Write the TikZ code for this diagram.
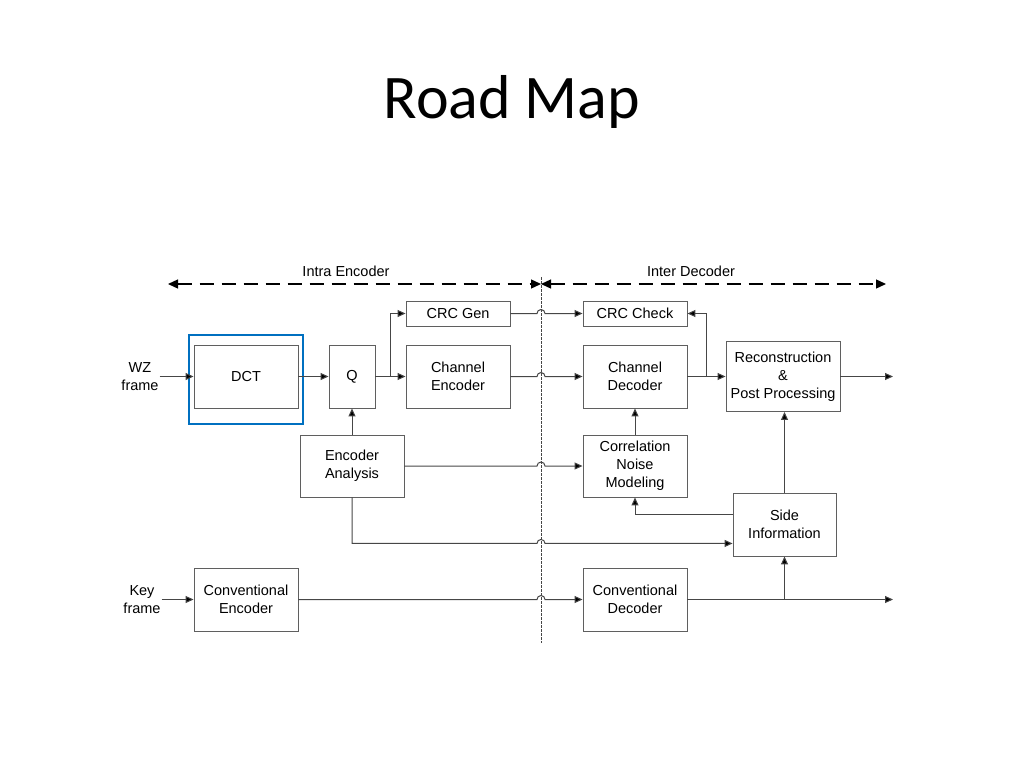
\documentclass[tikz,border=0pt]{standalone}
\usepackage{fontspec}
\setmainfont{Liberation Sans}
\newfontfamily\titlefont{Carlito}
\usetikzlibrary{arrows.meta,calc}
\definecolor{hl_blue}{RGB}{0, 112, 192}
\definecolor{ln_gray}{RGB}{70, 70, 70}
\definecolor{bx_gray}{RGB}{95, 95, 95}
\tikzstyle{blk}=[rectangle,draw=bx_gray,line width=0.9pt,fill=white,
  align=center,inner sep=2pt,font=\fontsize{14.5}{18}\selectfont]
\tikzstyle{lbl}=[align=center,inner sep=1pt,font=\fontsize{14.5}{18}\selectfont]
\tikzstyle{arr}=[draw=ln_gray,line width=1pt,-{Triangle[length=8pt,width=7pt,fill=black]}]
\tikzstyle{span}=[line width=1.3pt,dash pattern=on 14pt off 8pt,
  {Triangle[length=10pt,width=9pt]}-{Triangle[length=10pt,width=9pt]}]
\tikzstyle{divline}=[draw=ln_gray,line width=0.6pt,dash pattern=on 2.5pt off 1.5pt]

\begin{document}
\begin{tikzpicture}[x=1pt,y=-1pt]
    \useasboundingbox (0,0) rectangle (1024,768);
    \node [anchor=base] (title) at (512,118) {\titlefont\fontsize{62}{62}\selectfont Road Map};

    % encoder / decoder split
    \coordinate (dtop) at (541,277);
    \coordinate (dbot) at (541,643);
    \coordinate (tl) at (168,284);
    \coordinate (tm) at (541,284);
    \coordinate (tr) at (886,284);
    \draw [divline] (dtop) -- (dbot);
    \draw [span] (tl) -- (tm);
    \draw [span] (tm) -- (tr);
    \node [style=lbl] (intra) at (346,271) {Intra Encoder};
    \node [style=lbl] (inter) at (691,271) {Inter Decoder};

    % blocks
    \node [style=lbl] (wz) at (140,376.5) {WZ\\frame};
    \node [style=lbl] (key) at (142,599.5) {Key\\frame};
    \node [draw=hl_blue,line width=2.6pt,minimum width=114,minimum height=89] (hl) at (246,379.5) {};
    \node [style=blk,minimum width=104,minimum height=63] (dct) at (246,376.5) {DCT};
    \node [style=blk,minimum width=46,minimum height=63] (q) at (352,376.5) {Q};
    \node [style=blk,minimum width=104,minimum height=63] (cenc) at (458,376.5) {Channel\\Encoder};
    \node [style=blk,minimum width=104,minimum height=25] (crcg) at (458,313.5) {CRC Gen};
    \node [style=blk,minimum width=104,minimum height=25] (crcc) at (635,313.5) {CRC Check};
    \node [style=blk,minimum width=104,minimum height=63] (cdec) at (635,376.5) {Channel\\Decoder};
    \node [style=blk,minimum width=114,minimum height=70] (rec) at (783,376.5) {Reconstruction\\\&\\Post Processing};
    \node [style=blk,minimum width=104,minimum height=62] (ea) at (352,466) {Encoder\\Analysis};
    \node [style=blk,minimum width=104,minimum height=62] (cnm) at (635,466) {Correlation\\Noise\\Modeling};
    \node [style=blk,minimum width=103,minimum height=63] (si) at (784.5,524.5) {Side\\Information};
    \node [style=blk,minimum width=104,minimum height=63] (conve) at (246,599.5) {Conventional\\Encoder};
    \node [style=blk,minimum width=104,minimum height=63] (convd) at (635,599.5) {Conventional\\Decoder};
    \coordinate (out1) at (893,376.5);
    \coordinate (out2) at (893,599.5);

    % WZ path
    \draw [style=arr] (wz.east) to (dct.west);
    \draw [style=arr] (dct.east) to (q.west);
    \draw [style=arr] (q.east) to (cenc.west);
    \draw [style=arr] ($(q.east)!0.5!(cenc.west)$) |- (crcg.west);
    \draw [style=arr] (crcg.east) -- ([xshift=-4pt]dtop |- crcg.east) arc[start angle=180,end angle=0,radius=4pt] -- (crcc.west);
    \draw [style=arr] (cenc.east) -- ([xshift=-4pt]dtop |- cenc.east) arc[start angle=180,end angle=0,radius=4pt] -- (cdec.west);
    \draw [style=arr] (cdec.east) to (rec.west);
    \draw [style=arr] ($(cdec.east)!0.5!(rec.west)$) |- (crcc.east);
    \draw [style=arr] (rec.east) to (out1);
    \draw [style=arr] (ea.north) to (q.south);
    \draw [style=arr] (ea.east) -- ([xshift=-4pt]dtop |- ea.east) arc[start angle=180,end angle=0,radius=4pt] -- (cnm.west);
    \draw [style=arr] (ea.south) |- ([xshift=-4pt,yshift=13pt]dtop |- si.south) arc[start angle=180,end angle=0,radius=4pt] -- ([yshift=13pt]si.south west);
    \draw [style=arr] (cnm.north) to (cdec.south);
    \draw [style=arr] ([yshift=10pt]si.west) -| (cnm.south);
    \draw [style=arr] (si.north) to (si.north |- rec.south);

    % key frame path
    \draw [style=arr] (key.east) to (conve.west);
    \draw [style=arr] (conve.east) -- ([xshift=-4pt]dtop |- conve.east) arc[start angle=180,end angle=0,radius=4pt] -- (convd.west);
    \draw [style=arr] (convd.east) to (out2);
    \draw [style=arr] (convd.east -| si.south) to (si.south);
\end{tikzpicture}
\end{document}
